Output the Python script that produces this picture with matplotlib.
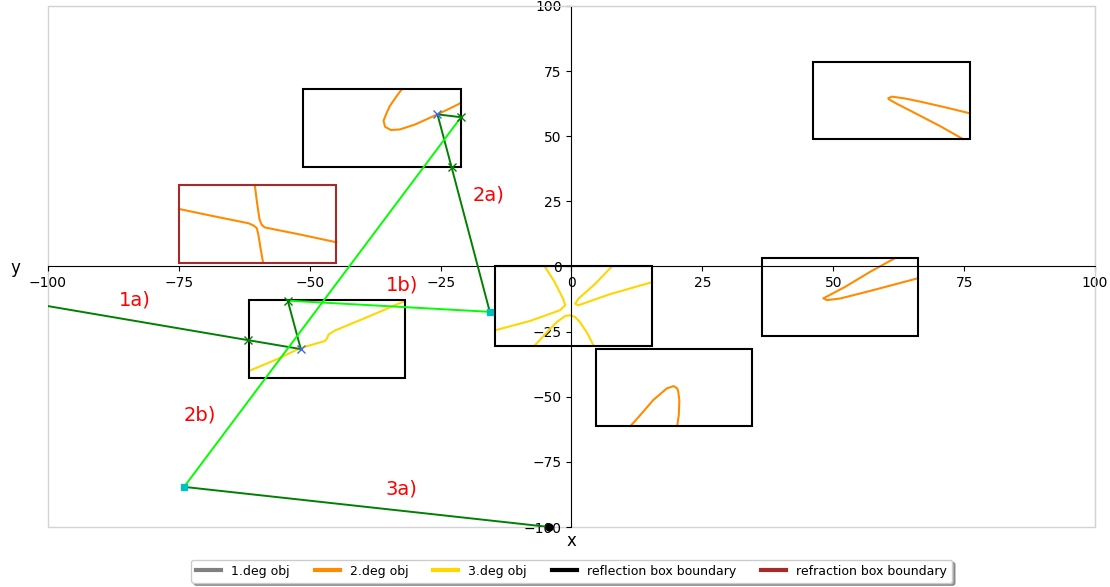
import numpy as np
import matplotlib
matplotlib.use("Agg")
import matplotlib.pyplot as plt
from matplotlib.patches import Rectangle
from matplotlib.lines import Line2D

# reflection boxes: (x0, y0, x1, y1)
refl_boxes = [(-51.2, 38.2, -21.1, 68.1),
              (-61.6, -42.8, -31.8, -12.9),
              (-14.6, -30.5, 15.4, 0.0),
              (4.7, -61.2, 34.5, -31.7),
              (36.4, -26.7, 66.2, 3.3),
              (46.1, 48.9, 76.1, 78.5)]
refr_boxes = [(-75.0, 1.3, -45.0, 31.3)]

# 2nd degree objects
deg2_curves = [
    [(-32.4, 68.1), (-33.5, 65.1), (-34.7, 61.6), (-35.4, 58.5), (-35.9, 55.9), (-35.6, 53.6),
     (-34.5, 52.4), (-32.8, 52.6), (-29.9, 54.5), (-25.6, 58.4), (-23.2, 60.7), (-21.2, 62.7)],
    [(-75.0, 22.1), (-68.1, 19.2), (-61.7, 16.6), (-60.7, 15.7), (-60.1, 14.7), (-59.8, 12.1),
     (-59.4, 7.1), (-58.9, 1.4)],
    [(-60.5, 31.3), (-60.0, 23.6), (-59.6, 18.2), (-59.2, 16.1), (-58.6, 15.0), (-51.9, 12.3),
     (-44.9, 9.3)],
    [(11.3, -61.2), (13.5, -56.2), (15.6, -51.3), (18.2, -46.8), (19.5, -45.9), (20.2, -46.8),
     (20.4, -48.1), (20.6, -51.3), (20.5, -57.0), (20.2, -61.2)],
    [(61.8, 3.2), (57.0, -2.1), (52.2, -7.9), (49.0, -11.3), (48.1, -12.2), (48.8, -12.9),
     (51.3, -12.3), (57.0, -9.4), (66.2, -4.5)],
    [(74.8, 48.9), (70.4, 53.9), (65.6, 58.9), (62.2, 62.4), (60.7, 64.1), (60.5, 64.6),
     (61.2, 65.2), (63.7, 64.5), (66.6, 63.3), (71.4, 61.1), (76.1, 58.8)],
]

# 3rd degree objects
deg3_curves = [
    [(-61.6, -40.1), (-56.6, -35.9), (-51.9, -31.4), (-47.1, -28.6), (-46.7, -27.6),
     (-46.4, -26.1), (-45.2, -24.6), (-38.5, -19.0), (-31.8, -13.2)],
    [(-5.1, 0.0), (-3.2, -6.0), (-1.6, -12.4), (-1.2, -14.9), (-2.2, -16.8), (-7.9, -20.9),
     (-14.6, -24.5)],
    [(7.7, 0.0), (4.5, -6.7), (1.3, -12.4), (0.7, -14.3), (1.3, -14.9), (7.4, -10.6),
     (15.4, -6.0)],
    [(-7.0, -30.3), (-4.5, -24.8), (-2.8, -21.3), (-1.2, -19.0), (-0.3, -18.7), (0.7, -19.4),
     (1.6, -21.3), (3.0, -25.5), (4.2, -30.3)],
]

# ray segments
dark_rays = [
    [(-100, -15.2), (-61.7, -28.3), (-51.7, -31.7)],
    [(-51.7, -31.7), (-54.2, -13.1)],
    [(-15.6, -17.4), (-22.9, 38.1), (-25.6, 58.4)],
    [(-25.6, 58.4), (-21.1, 57.3)],
    [(-74.0, -84.6), (-4.2, -100.0)],
]
lime_rays = [
    [(-54.2, -13.1), (-15.6, -17.4)],
    [(-21.1, 57.3), (-74.0, -84.6)],
]
box_hits = [(-61.7, -28.3), (-54.2, -13.1), (-22.9, 38.1), (-21.1, 57.3)]
obj_hits = [(-51.7, -31.7), (-25.6, 58.4)]
square_pts = [(-15.6, -17.4), (-74.0, -84.6)]
end_pts = [(-4.2, -100.0)]

labels = ["1a)", "1b)", "2a)", "2b)", "3a)"]
label_pos = [(-83.5, -13.0), (-32.3, -7.2), (-15.9, 27.3), (-70.9, -57.0), (-32.5, -85.5)]

fig = plt.figure(figsize=(11.1, 5.87), dpi=100)
ax = fig.add_axes([0.0432, 0.1022, 0.9433, 0.8876])

for x0, y0, x1, y1 in refl_boxes:
    ax.add_patch(Rectangle((x0, y0), x1 - x0, y1 - y0, fill=False, edgecolor="black", lw=1.5, zorder=3))
for x0, y0, x1, y1 in refr_boxes:
    ax.add_patch(Rectangle((x0, y0), x1 - x0, y1 - y0, fill=False, edgecolor="brown", lw=1.5, zorder=3))

for c in deg2_curves:
    c = np.array(c)
    ax.plot(c[:, 0], c[:, 1], color="darkorange", lw=1.5, zorder=2)
for c in deg3_curves:
    c = np.array(c)
    ax.plot(c[:, 0], c[:, 1], color="gold", lw=1.5, zorder=2)

for r in dark_rays:
    r = np.array(r)
    ax.plot(r[:, 0], r[:, 1], color="green", lw=1.4, zorder=4)
for r in lime_rays:
    r = np.array(r)
    ax.plot(r[:, 0], r[:, 1], color="lime", lw=1.4, zorder=4)

p = np.array(box_hits)
ax.plot(p[:, 0], p[:, 1], "x", color="green", ms=6, zorder=5)
p = np.array(obj_hits)
ax.plot(p[:, 0], p[:, 1], "x", color="royalblue", ms=6, zorder=5)
p = np.array(square_pts)
ax.plot(p[:, 0], p[:, 1], "s", color="c", ms=4, zorder=5)
p = np.array(end_pts)
ax.plot(p[:, 0], p[:, 1], "o", color="black", ms=5, zorder=5, clip_on=False)

for t, (x, y) in zip(labels, label_pos):
    ax.text(x, y, t, color="red", fontsize=14, ha="center", va="center")

ax.set_xlim(-100, 100)
ax.set_ylim(-100, 100)
ax.set_xticks(np.arange(-100, 101, 25))
ax.set_yticks(np.arange(-100, 101, 25))
ax.spines["left"].set_position("zero")
ax.spines["bottom"].set_position("zero")
ax.spines["top"].set_color("lightgray")
ax.spines["right"].set_color("lightgray")
ax.patch.set_edgecolor("lightgray")
ax.patch.set_linewidth(1.0)

ax.set_xlabel("x", fontsize=12)
ax.set_ylabel("y", fontsize=12, rotation=0)
ax.xaxis.set_label_coords(0.5, -0.01)
ax.yaxis.set_label_coords(-0.031, 0.48)

handles = [Line2D([], [], color="gray", lw=3),
           Line2D([], [], color="darkorange", lw=3),
           Line2D([], [], color="gold", lw=3),
           Line2D([], [], color="black", lw=3),
           Line2D([], [], color="brown", lw=3)]
names = ["1.deg obj", "2.deg obj", "3.deg obj", "reflection box boundary", "refraction box boundary"]
fig.legend(handles, names, loc="lower center", bbox_to_anchor=(0.515, -0.003), ncol=5, shadow=True,
           fontsize=9)

fig.savefig("out.png", dpi=100)
